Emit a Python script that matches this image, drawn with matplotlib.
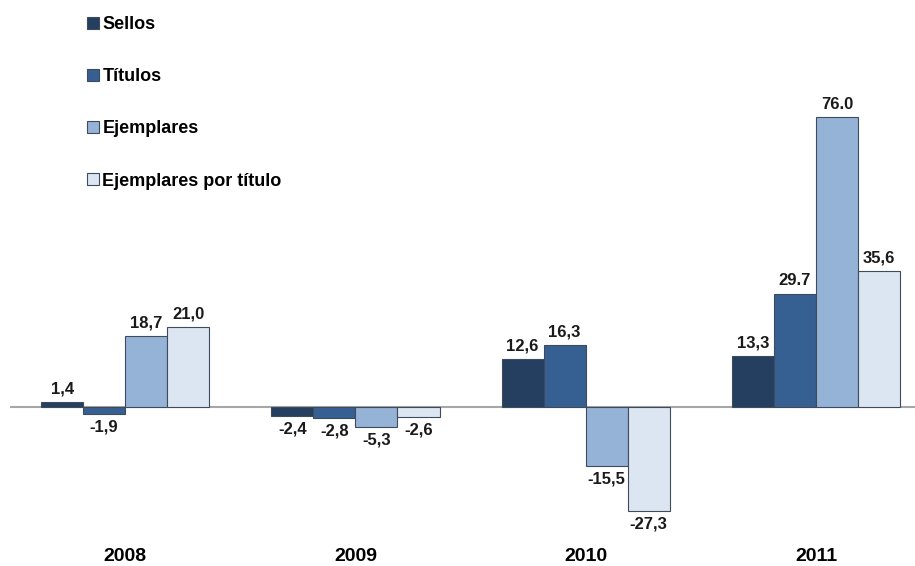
import matplotlib.pyplot as plt
import numpy as np
from matplotlib.patches import Patch

years = ["2008", "2009", "2010", "2011"]
series = ["Sellos", "Títulos", "Ejemplares", "Ejemplares por título"]
sellos = [1.4, -2.4, 12.6, 13.3]
titulos = [-1.9, -2.8, 16.3, 29.7]
ejemplares = [18.7, -5.3, -15.5, 76.0]
ej_por_titulo = [21.0, -2.6, -27.3, 35.6]
labels = [
    ["1,4", "-2,4", "12,6", "13,3"],
    ["-1,9", "-2,8", "16,3", "29.7"],
    ["18,7", "-5,3", "-15,5", "76.0"],
    ["21,0", "-2,6", "-27,3", "35,6"],
]
colors = ["#243F60", "#376092", "#95B3D7", "#DCE6F2"]

plt.rcParams["font.family"] = ["Liberation Sans", "DejaVu Sans"]

fig = plt.figure(figsize=(9.15, 5.66), dpi=100)
ax = fig.add_axes([10 / 915, 26 / 566, 905 / 915, 540 / 566])

x = np.arange(len(years))
width = 0.1826
values = [sellos, titulos, ejemplares, ej_por_titulo]
for i, (vals, col) in enumerate(zip(values, colors)):
    bars = ax.bar(x + (i - 1.5) * width, vals, width, color=col,
                  edgecolor="#3F4A5A", linewidth=0.8, zorder=2)
    ax.bar_label(bars, labels=labels[i], padding=4, fontsize=12,
                 fontweight="bold", color="#1A1A1A")

ax.axhline(0, color="#A6A6A6", linewidth=1.5, zorder=1)
ax.set_xlim(-0.5, 3.43)
ax.set_ylim(-34.85, 106.7)
ax.set_xticks(x)
ax.set_xticklabels(years, fontsize=14, fontweight="bold")
ax.tick_params(axis="x", length=0, pad=5.5)
ax.set_yticks([])
for s in ax.spines.values():
    s.set_visible(False)

handles = [Patch(facecolor=c, edgecolor="#3F4A5A", linewidth=0.8) for c in colors]
fig.legend(handles, series, loc="upper left", bbox_to_anchor=(78 / 915, 1 - 7 / 566),
           frameon=False, prop={"weight": "bold", "size": 13},
           handlelength=0.65, handleheight=0.65, handletextpad=0.2,
           labelspacing=1.95, borderpad=0)

fig.savefig("out.png", dpi=100)
plt.close(fig)
